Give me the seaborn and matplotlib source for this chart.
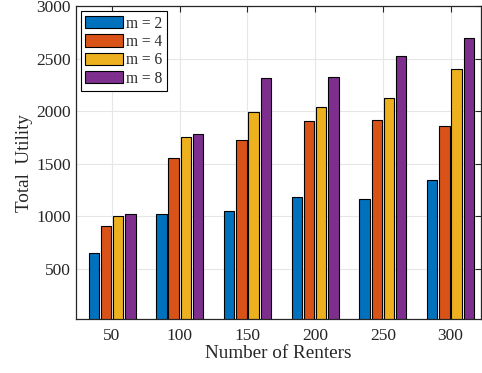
import pandas as pd
import matplotlib.pyplot as plt
import seaborn as sns

# data
renters = [50, 100, 150, 200, 250, 300]
m2 = [652, 1020, 1047, 1182, 1163, 1348]
m4 = [912, 1556, 1726, 1908, 1915, 1857]
m6 = [1006, 1758, 1998, 2046, 2123, 2408]
m8 = [1019, 1780, 2321, 2331, 2526, 2699]
series_labels = ['m = 2', 'm = 4', 'm = 6', 'm = 8']
colors = ['#0072BD', '#D95319', '#EDB120', '#7E2F8E']

rows = []
for lab, vals in zip(series_labels, [m2, m4, m6, m8]):
    for r, v in zip(renters, vals):
        rows.append({'Renters': r, 'Utility': v, 'm': lab})
df = pd.DataFrame(rows)

sns.set_theme(style='whitegrid')
plt.rcParams['font.family'] = ['Liberation Serif', 'DejaVu Serif']

fig = plt.figure(figsize=(4.82, 3.73), dpi=100)
ax = fig.add_axes([0.158, 0.144, 0.84, 0.839])

sns.barplot(data=df, x='Renters', y='Utility', hue='m', palette=colors,
            width=0.72, gap=0.15, edgecolor='black', linewidth=0.8,
            saturation=1, ax=ax, legend=True)

ax.set_ylim(20, 3000)
ax.set_xlim(-0.53, 5.45)
ax.set_yticks([500, 1000, 1500, 2000, 2500, 3000])
ax.set_xlabel('Number of Renters', fontsize=13.8, color='#262626', labelpad=1)
ax.set_ylabel('Total  Utility', fontsize=13.8, color='#262626', labelpad=2)
ax.tick_params(axis='both', labelsize=12.5, colors='#262626', direction='in',
               length=4, width=0.8, top=True, right=True, pad=4)
ax.tick_params(axis='x', pad=6)
ax.set_axisbelow(True)
ax.grid(True, color='#e6e6e6', linewidth=0.8)
for s in ax.spines.values():
    s.set_color('#262626')
    s.set_linewidth(0.9)
    s.set_visible(True)

leg = ax.legend(loc='upper left', fontsize=11.2, frameon=True, fancybox=False,
                edgecolor='black', framealpha=1, handlelength=2.4,
                handleheight=0.85, labelspacing=0.15, handletextpad=0.2,
                borderpad=0.3, borderaxespad=0.3, title=None)
leg.get_frame().set_linewidth(0.8)

fig.savefig('out.png', dpi=100)
